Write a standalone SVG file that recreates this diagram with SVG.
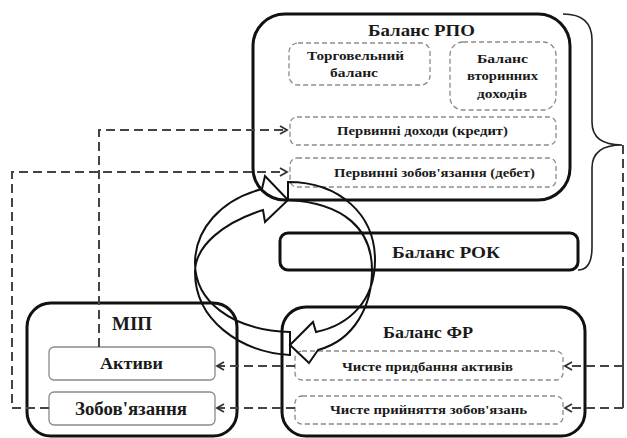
<svg xmlns="http://www.w3.org/2000/svg" width="627" height="438" viewBox="0 0 627 438">
<style>
.t{font-family:"Liberation Serif","Times New Roman",serif;font-weight:bold;fill:#1a1a1a;text-anchor:middle}
.big{stroke:#111;stroke-width:3;fill:none}
.dbox{stroke:#8a8a8a;stroke-width:1.3;stroke-dasharray:5 3;fill:none}
.sbox{stroke:#8a8a8a;stroke-width:1.3;fill:#fff}
.con{stroke:#444;stroke-width:2;stroke-dasharray:9 5;fill:none}
.arr{stroke:#111;stroke-width:2;fill:none;stroke-linejoin:miter}
.brace{stroke:#222;stroke-width:1.6;fill:none}
</style>
<defs>
<marker id="ah" markerUnits="userSpaceOnUse" markerWidth="12" markerHeight="12" refX="8" refY="5" orient="auto">
<path d="M1,1 L8,5 L1,9" fill="none" stroke="#333" stroke-width="1.8"/>
</marker>
</defs>

<g id="rpo">
<rect class="big" x="253" y="14" width="317" height="186" rx="32"/>
<text class="t" x="421.5" y="36" font-size="17" textLength="107" lengthAdjust="spacingAndGlyphs">Баланс РПО</text>
</g>
<g id="trade">
<rect class="dbox" x="289" y="43" width="141" height="42" rx="9"/>
<text class="t" x="355.5" y="60" font-size="12.5" textLength="97" lengthAdjust="spacingAndGlyphs">Торговельний</text>
<text class="t" x="354" y="77" font-size="12.5" textLength="48" lengthAdjust="spacingAndGlyphs">баланс</text>
</g>
<g id="secondary">
<rect class="dbox" x="450" y="42" width="106" height="68" rx="13"/>
<text class="t" x="502.5" y="63" font-size="12.5" textLength="51" lengthAdjust="spacingAndGlyphs">Баланс</text>
<text class="t" x="502.5" y="80" font-size="12.5" textLength="71" lengthAdjust="spacingAndGlyphs">вторинних</text>
<text class="t" x="502" y="98" font-size="12.5" textLength="50" lengthAdjust="spacingAndGlyphs">доходів</text>
</g>
<g id="primary-income">
<rect class="dbox" x="290" y="117" width="266" height="28" rx="7"/>
<text class="t" x="422.5" y="135" font-size="12.5" textLength="171" lengthAdjust="spacingAndGlyphs">Первинні доходи (кредит)</text>
</g>
<g id="primary-liab">
<rect class="dbox" x="290" y="158" width="266" height="29" rx="7"/>
<text class="t" x="434.5" y="177" font-size="12.5" textLength="201" lengthAdjust="spacingAndGlyphs">Первинні зобов'язання (дебет)</text>
</g>

<g id="rok">
<rect class="big" x="280" y="233" width="298" height="37" rx="8"/>
<text class="t" x="446" y="257.5" font-size="17" textLength="108" lengthAdjust="spacingAndGlyphs">Баланс РОК</text>
</g>

<g id="mip">
<rect class="big" x="27" y="303" width="210" height="133" rx="24"/>
<text class="t" x="132" y="330" font-size="18" textLength="40" lengthAdjust="spacingAndGlyphs">МІП</text>
</g>
<g id="assets">
<rect class="sbox" x="49" y="347" width="166" height="33" rx="5"/>
<text class="t" x="131.5" y="369" font-size="16.5" textLength="63" lengthAdjust="spacingAndGlyphs">Активи</text>
</g>
<g id="liabilities">
<rect class="sbox" x="49" y="392" width="166" height="33" rx="5"/>
<text class="t" x="131" y="415" font-size="18.5" textLength="112" lengthAdjust="spacingAndGlyphs">Зобов'язання</text>
</g>

<g id="fr">
<rect class="big" x="282" y="307" width="303" height="129" rx="24"/>
<text class="t" x="428" y="338" font-size="17" textLength="90" lengthAdjust="spacingAndGlyphs">Баланс ФР</text>
</g>
<g id="net-assets">
<rect class="dbox" x="295" y="351" width="268" height="29" rx="7"/>
<text class="t" x="427.5" y="371" font-size="12.5" textLength="171" lengthAdjust="spacingAndGlyphs">Чисте придбання активів</text>
</g>
<g id="net-liab">
<rect class="dbox" x="295" y="396" width="268" height="28" rx="7"/>
<text class="t" x="428.5" y="414" font-size="12.5" textLength="197" lengthAdjust="spacingAndGlyphs">Чисте прийняття зобов'язань</text>
</g>

<g id="brace">
<path class="brace" d="M563,14 Q592,14 592,40 L592,122 Q592,145 622,145 Q592,145 592,168 L592,247 Q592,270 578,270"/>
</g>

<g id="cycle">
<path class="arr" d="M290,332 C230,330 195,300 195,263 C195,230 220,200 262,189 L265,176 L288,200 L265,222 L263,210 C225,222 195,245 195,272 C195,320 240,352 290,355 Z"/>
<path class="arr" d="M288,182 C340,182 375,215 375,260 C375,300 350,325 316,332 L313,322 L290,345 L309,363 L318,350 C355,340 372,305 372,270 C372,230 345,203 288,200 Z"/>
</g>

<g id="connectors">
<path class="con" d="M99,347 L99,130 L287,130" marker-end="url(#ah)"/>
<path class="con" d="M49,408 L12,408 L12,172 L287,172" marker-end="url(#ah)"/>
<path class="con" d="M295,366 L217,366" marker-end="url(#ah)"/>
<path class="con" d="M295,408 L217,408" marker-end="url(#ah)"/>
<path class="con" d="M623,145 L623,408"/>
<path class="con" d="M623,268 L623,408" stroke-dashoffset="6"/>
<path class="con" d="M623,366 L565,366" marker-end="url(#ah)"/>
<path class="con" d="M623,408 L565,408" marker-end="url(#ah)"/>
</g>
</svg>
